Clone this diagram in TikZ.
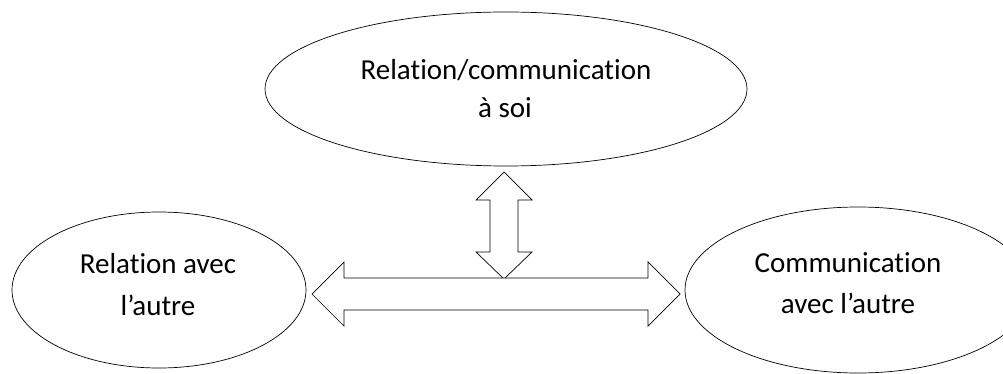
\documentclass[tikz,border=0pt]{standalone}
\usepackage{fontspec}
\setmainfont{Carlito}[Ligatures={NoCommon}]
\usetikzlibrary{shapes.geometric}
\begin{document}
\begin{tikzpicture}[x=1pt,y=-1pt,
  bubble/.style={draw=black,line width=0.7pt},
  blockarrow/.style={draw=black,fill=white,line width=0.7pt,line join=miter},
  lbl/.style={anchor=base,inner sep=0pt,font=\fontsize{29}{35}\selectfont}]
\useasboundingbox (0,0) rectangle (1003,374);
\clip (0,0) rectangle (1003,374);
% ellipses
\draw[bubble] (506,89) ellipse [x radius=241,y radius=77];
\draw[bubble] (159,290) ellipse [x radius=147,y radius=78];
\draw[bubble] (858,290) ellipse [x radius=173,y radius=83];
\coordinate (top) at (506,89);
\coordinate (left) at (159,290);
\coordinate (right) at (858,290);
% labels
\node[lbl] (t1) at (506,80) {Relation/communication};
\node[lbl] (t2) at (505,118) {à soi};
\node[lbl] (l1) at (158,273) {Relation avec};
\node[lbl] (l2) at (158,315) {l’autre};
\node[lbl] (r1) at (848,272) {Communication};
\node[lbl] (r2) at (848,313) {avec l’autre};
% vertical double arrow
\draw[blockarrow] (504,172) -- (532,200) -- (518,200) -- (518,252) -- (532,252)
  -- (504,279) -- (476,252) -- (490,252) -- (490,200) -- (476,200) -- cycle;
% horizontal double arrow
\draw[blockarrow] (312,294) -- (344,262) -- (344,278) -- (648,278) -- (648,262)
  -- (680,294) -- (648,326) -- (648,310) -- (344,310) -- (344,326) -- cycle;
\end{tikzpicture}
\end{document}
